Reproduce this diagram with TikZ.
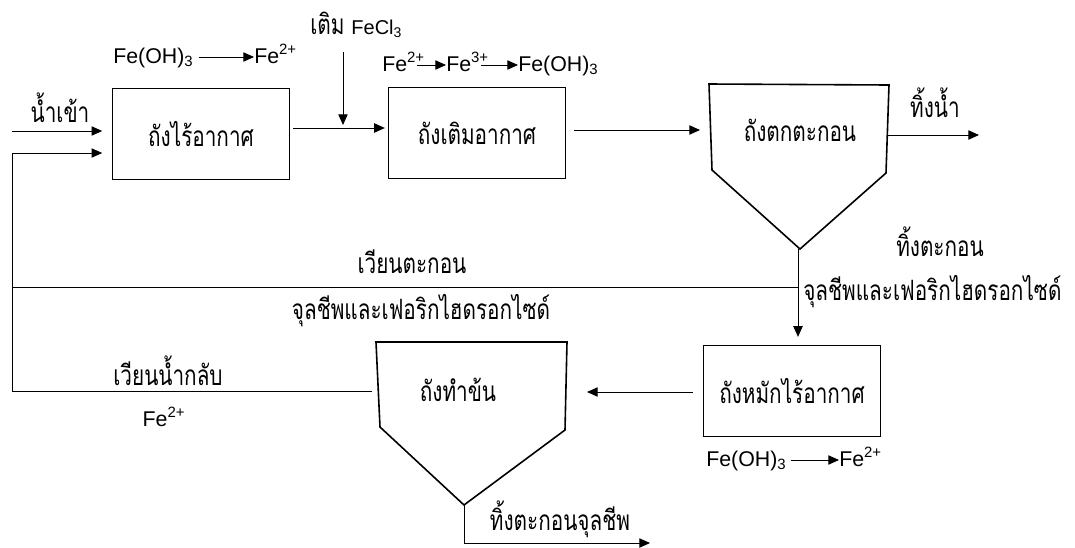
\documentclass[tikz,border=0pt]{standalone}
\usepackage{fontspec}
\setmainfont{Liberation Sans}
\newfontfamily\thai[Script=Thai, FakeStretch=0.74]{Loma}
\usetikzlibrary{arrows.meta}

\tikzset{
  tank/.style={draw, line width=1.2pt, minimum width=133pt, minimum height=68pt, font=\thai\fontsize{21}{24}\selectfont},
  hopper/.style={line width=1.2pt},
  flow/.style={-{Triangle[length=8pt,width=7pt]}, line width=0.7pt},
  pipe/.style={line width=0.7pt},
  lbl/.style={font=\thai\fontsize{21}{24}\selectfont, inner sep=0pt},
  chem/.style={font=\fontsize{16}{18}\selectfont, inner sep=0pt, text height=12pt, text depth=3pt}
}

\begin{document}
\begin{tikzpicture}[x=0.75pt, y=-0.75pt]
        \useasboundingbox (0,0) rectangle (1075,547);
        \node[tank] (anaer) at (201,134) {ถังไร้อากาศ};
        \node[tank] (aer) at (477,133) {ถังเติมอากาศ};
        \node[tank] (digest) at (792,391) {ถังหมักไร้อากาศ};
        \draw[hopper] (709,84) -- (889,85) -- (886,173) -- (800,249) -- (712,170) -- cycle;
        \node[lbl] (settle) at (800,130) {ถังตกตะกอน};
        \coordinate (settleapex) at (798,249);
        \draw[hopper] (376,342) -- (567,342) -- (565,430) -- (464,505) -- (380,427) -- cycle;
        \node[lbl] (thick) at (458,390) {ถังทำข้น};
        \coordinate (thickapex) at (464,505);
        \coordinate (inlet) at (12,131);
        \coordinate (dose) at (343,52);
        \coordinate (mix) at (343,125);
        \coordinate (junction) at (798,287);
        \coordinate (cornerA) at (12,287);
        \coordinate (cornerB) at (12,391);
        \coordinate (cornerC) at (12,153);
        \coordinate (thickout) at (372,391);
        \coordinate (thickin) at (587,392);
        \coordinate (outlet) at (979,135);
        \coordinate (settlein) at (700,130);
        \coordinate (settleout) at (888,135);
        \coordinate (thickbase) at (464,543);
        \coordinate (sludgeout) at (650,543);
        \node[lbl] (inlabel) at (60,108) {น้ำเข้า};
        \node[lbl, anchor=west] (dosing) at (310,25) {เติม {\rmfamily\fontsize{15}{18}\selectfont FeCl\textsubscript{3}}};
        \node[lbl] (outlabel) at (935,103) {ทิ้งน้ำ};
        \node[lbl] (wastelabel) at (940,242) {ทิ้งตะกอน};
        \node[lbl, anchor=west] (wastemicro) at (803,292) {จุลชีพและเฟอริกไฮดรอกไซด์};
        \node[lbl] (recsludge) at (412,262) {เวียนตะกอน};
        \node[lbl] (recmicro) at (421,311) {จุลชีพและเฟอริกไฮดรอกไซด์};
        \node[lbl] (recwater) at (168,371) {เวียนน้ำกลับ};
        \node[chem] (recfe) at (164,420) {Fe\textsuperscript{2+}};
        \node[lbl] (sludgelabel) at (560,519) {ทิ้งตะกอนจุลชีพ};
        \node[chem, anchor=west] (fea) at (113,57) {Fe(OH)\textsubscript{3}};
        \node[chem, anchor=west] (feb) at (254,57) {Fe\textsuperscript{2+}};
        \node[chem, anchor=west] (fec) at (382,65) {Fe\textsuperscript{2+}};
        \node[chem, anchor=west] (fed) at (446,65) {Fe\textsuperscript{3+}};
        \node[chem, anchor=west] (fee) at (518,65) {Fe(OH)\textsubscript{3}};
        \node[chem, anchor=west] (fef) at (706,460) {Fe(OH)\textsubscript{3}};
        \node[chem, anchor=west] (feg) at (839,460) {Fe\textsuperscript{2+}};
        \draw[flow, shorten <=4pt] (fea) -- (feb);
        \draw[flow] ([xshift=-6pt]fec.east) -- (fed);
        \draw[flow] ([xshift=-6pt]fed.east) -- (fee);
        \draw[flow, shorten <=3pt] (fef) -- (feg);
        \draw[flow, shorten >=7pt] (inlet) -- (inlet -| anaer.west);
        \draw[flow, shorten <=2pt, shorten >=2pt] (anaer.east |- 0,128) -- (aer.west |- 0,128);
        \draw[flow] (dose) -- (mix);
        \draw[flow, shorten <=6pt] (aer.east |- settlein) -- (settlein);
        \draw[flow] (settleout) -- (outlet);
        \draw[flow, shorten >=6pt] (settleapex) -- (settleapex |- digest.north);
        \draw[pipe] (junction) -- (cornerA);
        \draw[flow, shorten >=7pt] (thickout) -- (cornerB) -- (cornerC) -- (cornerC -| anaer.west);
        \draw[flow, shorten <=7pt] (digest.west |- thickin) -- (thickin);
        \draw[flow] (thickapex) -- (thickbase) -- (sludgeout);
\end{tikzpicture}
\end{document}
